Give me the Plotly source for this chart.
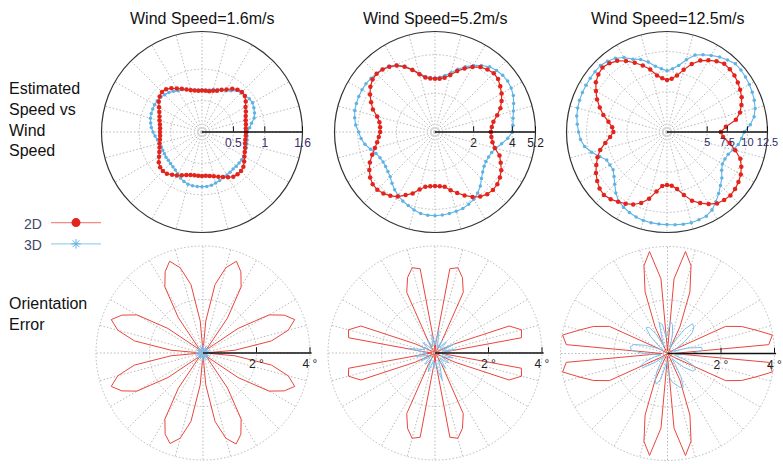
import plotly.graph_objects as go

# ---------------- data ----------------
angles = list(range(0, 360, 5))

col_titles = ["Wind Speed=1.6m/s", "Wind Speed=5.2m/s", "Wind Speed=12.5m/s"]
row_labels = ["Estimated<br>Speed vs<br>Wind<br>Speed", "Orientation<br>Error"]
series_names = ["2D", "3D"]

# Top row: estimated speed (m/s)
tl_2d = [0.70, 0.70, 0.71, 0.72, 0.74, 0.77, 0.80, 0.85, 0.89, 0.90, 0.88, 0.84,
         0.78, 0.74, 0.70, 0.68, 0.66, 0.66, 0.66, 0.66, 0.67, 0.69, 0.72, 0.76,
         0.80, 0.85, 0.89, 0.90, 0.88, 0.84, 0.79, 0.75, 0.72, 0.70, 0.68, 0.67,
         0.67, 0.67, 0.68, 0.70, 0.72, 0.75, 0.79, 0.84, 0.87, 0.88, 0.87, 0.83,
         0.80, 0.76, 0.73, 0.71, 0.70, 0.70, 0.70, 0.70, 0.71, 0.73, 0.76, 0.79,
         0.83, 0.87, 0.88, 0.88, 0.86, 0.82, 0.78, 0.75, 0.73, 0.71, 0.70, 0.70]
tl_3d = [0.72, 0.76, 0.80, 0.86, 0.89, 0.91, 0.93, 0.92, 0.90, 0.88, 0.86, 0.80,
         0.76, 0.73, 0.72, 0.70, 0.68, 0.67, 0.67, 0.67, 0.68, 0.70, 0.72, 0.74,
         0.76, 0.79, 0.82, 0.84, 0.86, 0.87, 0.87, 0.865, 0.86, 0.85, 0.83, 0.81,
         0.78, 0.75, 0.72, 0.70, 0.69, 0.69, 0.69, 0.70, 0.70, 0.71, 0.72, 0.74,
         0.77, 0.81, 0.84, 0.86, 0.87, 0.87, 0.87, 0.87, 0.86, 0.84, 0.82, 0.80,
         0.79, 0.78, 0.77, 0.77, 0.77, 0.77, 0.77, 0.76, 0.75, 0.74, 0.73, 0.72]
tm_2d = [2.89, 2.95, 3.07, 3.33, 3.60, 3.80, 3.98, 4.12, 4.26, 4.30, 4.22, 4.10,
         3.88, 3.62, 3.36, 3.05, 2.85, 2.76, 2.75, 2.78, 2.86, 3.10, 3.42, 3.72,
         3.97, 4.12, 4.22, 4.27, 4.22, 4.08, 3.88, 3.65, 3.42, 3.10, 2.92, 2.85,
         2.84, 2.92, 3.04, 3.22, 3.46, 3.72, 3.92, 4.10, 4.21, 4.22, 4.15, 4.03,
         3.86, 3.60, 3.38, 3.08, 2.88, 2.82, 2.80, 2.82, 2.88, 3.12, 3.36, 3.62,
         3.88, 4.08, 4.20, 4.24, 4.21, 4.10, 3.96, 3.75, 3.55, 3.20, 3.02, 2.93]
tm_3d = [4.00, 4.05, 4.10, 4.20, 4.33, 4.47, 4.55, 4.59, 4.57, 4.50, 4.40, 4.20,
         3.98, 3.72, 3.45, 3.18, 2.97, 2.85, 2.80, 2.83, 2.92, 3.15, 3.46, 3.76,
         4.00, 4.16, 4.24, 4.28, 4.32, 4.36, 4.36, 4.35, 4.33, 4.30, 4.22, 4.12,
         3.95, 3.84, 3.68, 3.45, 3.25, 3.14, 3.10, 3.12, 3.18, 3.28, 3.46, 3.64,
         3.80, 3.94, 4.05, 4.18, 4.28, 4.32, 4.33, 4.31, 4.28, 4.25, 4.21, 4.12,
         4.02, 3.85, 3.65, 3.40, 3.22, 3.10, 3.04, 3.06, 3.12, 3.25, 3.50, 3.78]
tr_2d = [6.70, 7.35, 8.70, 9.40, 9.85, 10.25, 10.50, 10.75, 10.95, 11.05, 11.07, 10.75,
         10.30, 9.80, 9.00, 8.00, 7.15, 6.65, 6.46, 6.70, 7.15, 8.05, 8.80, 9.50,
         10.20, 10.80, 11.15, 11.35, 11.15, 10.80, 10.20, 9.60, 8.90, 8.20, 7.40, 6.85,
         6.67, 7.10, 7.80, 8.60, 9.20, 9.70, 10.20, 10.60, 10.95, 11.10, 10.90, 10.60,
         10.30, 9.95, 9.40, 8.60, 7.50, 6.75, 6.58, 6.70, 7.20, 8.10, 9.10, 9.75,
         10.35, 10.85, 11.05, 11.15, 11.05, 10.85, 10.60, 10.20, 9.70, 8.80, 7.90, 7.00]
tr_3d = [9.60, 10.40, 11.00, 11.35, 11.55, 11.70, 11.82, 11.92, 12.00, 12.02, 11.70, 11.40,
         11.00, 10.60, 10.20, 9.30, 8.40, 7.90, 7.61, 7.90, 8.30, 9.00, 9.60, 10.00,
         10.70, 11.20, 11.50, 11.70, 11.68, 11.65, 11.63, 11.61, 11.58, 11.50, 11.40, 11.20,
         11.00, 10.80, 10.40, 9.70, 8.90, 8.27, 8.20, 8.18, 8.60, 9.20, 9.90, 10.50,
         10.80, 11.05, 11.25, 11.38, 11.45, 11.50, 11.52, 11.58, 11.64, 11.68, 11.62, 11.55,
         11.20, 10.60, 10.00, 9.40, 8.90, 8.30, 7.95, 7.95, 8.10, 8.50, 9.00, 9.30]

# Bottom row: orientation error (degrees)
bl_2d = [0.05, 1.20, 2.60, 3.30, 3.65, 3.35, 2.85, 1.60, 0.30, 0.05, 0.30, 1.60,
         2.85, 3.35, 3.65, 3.30, 2.60, 1.20, 0.05, 1.20, 2.60, 3.30, 3.65, 3.35,
         2.85, 1.60, 0.30, 0.05, 0.30, 1.60, 2.85, 3.35, 3.65, 3.30, 2.60, 1.20,
         0.05, 1.20, 2.60, 3.30, 3.65, 3.35, 2.85, 1.60, 0.30, 0.05, 0.30, 1.60,
         2.85, 3.35, 3.60, 3.30, 2.60, 1.20, 0.05, 1.20, 2.60, 3.30, 3.62, 3.35,
         2.85, 1.60, 0.30, 0.05, 0.30, 1.60, 2.85, 3.35, 3.65, 3.30, 2.60, 1.20]
bl_3d = [0.28, 0.10, 0.05, 0.12, 0.26, 0.10, 0.05, 0.12, 0.25, 0.28, 0.10, 0.05,
         0.12, 0.26, 0.10, 0.05, 0.12, 0.27, 0.30, 0.10, 0.05, 0.12, 0.26, 0.10,
         0.05, 0.12, 0.25, 0.28, 0.10, 0.05, 0.12, 0.26, 0.10, 0.05, 0.12, 0.27,
         0.28, 0.10, 0.05, 0.12, 0.26, 0.10, 0.05, 0.12, 0.25, 0.28, 0.10, 0.05,
         0.12, 0.26, 0.10, 0.05, 0.12, 0.27, 0.30, 0.10, 0.05, 0.12, 0.26, 0.10,
         0.05, 0.12, 0.25, 0.28, 0.10, 0.05, 0.12, 0.26, 0.10, 0.05, 0.12, 0.27]
bm_2d = [0.10, 0.30, 3.28, 3.35, 2.95, 0.80, 0.10, 0.05, 0.05, 0.05, 0.05, 0.10,
         0.50, 2.50, 3.00, 3.30, 3.20, 0.40, 0.05, 0.40, 3.20, 3.30, 3.00, 2.50,
         0.50, 0.10, 0.05, 0.05, 0.05, 0.05, 0.10, 0.80, 2.95, 3.35, 3.28, 0.30,
         0.10, 0.30, 3.28, 3.35, 2.95, 0.80, 0.10, 0.05, 0.05, 0.05, 0.05, 0.10,
         0.50, 2.50, 3.00, 3.30, 3.20, 0.40, 0.05, 0.40, 3.20, 3.30, 3.00, 2.50,
         0.50, 0.10, 0.05, 0.05, 0.05, 0.05, 0.10, 0.80, 2.95, 3.35, 3.28, 0.30]
bm_3d = [0.20, 0.30, 0.80, 0.30, 0.35, 0.80, 0.40, 0.20, 0.45, 0.60, 0.30, 0.25,
         0.55, 0.30, 0.20, 0.40, 0.85, 0.50, 0.30, 0.45, 0.70, 0.35, 0.25, 0.40,
         0.55, 0.30, 0.20, 0.40, 0.60, 0.35, 0.30, 0.55, 0.40, 0.50, 1.00, 0.45,
         0.30, 0.50, 0.75, 0.40, 0.25, 0.45, 0.60, 0.30, 0.20, 0.45, 0.55, 0.30,
         0.25, 0.50, 0.75, 0.40, 0.30, 0.60, 0.45, 0.35, 0.70, 1.05, 0.55, 0.30,
         0.45, 0.70, 0.35, 0.25, 0.50, 0.65, 0.30, 0.25, 0.50, 0.70, 0.35, 0.25]
br_2d = [0.20, 3.80, 3.98, 3.40, 2.95, 2.40, 0.30, 0.05, 0.05, 0.05, 0.05, 0.05,
         0.10, 1.10, 2.45, 3.40, 3.87, 2.80, 0.10, 2.80, 3.87, 3.40, 2.45, 1.10,
         0.10, 0.05, 0.05, 0.05, 0.05, 0.05, 0.30, 2.40, 2.95, 3.40, 3.98, 3.80,
         0.20, 3.80, 3.98, 3.40, 2.95, 2.40, 0.30, 0.05, 0.05, 0.05, 0.05, 0.05,
         0.10, 1.10, 2.45, 3.40, 3.87, 2.80, 0.10, 2.80, 3.87, 3.40, 2.45, 1.10,
         0.10, 0.05, 0.05, 0.05, 0.05, 0.05, 0.30, 2.40, 2.95, 3.40, 3.98, 3.80]
br_3d = [0.90, 1.30, 1.30, 0.80, 0.30, 0.20, 0.40, 0.80, 1.20, 1.40, 1.45, 1.10,
         0.50, 0.20, 0.30, 0.70, 1.10, 1.20, 0.70, 0.60, 1.10, 1.20, 0.60, 0.30,
         0.80, 1.20, 1.25, 0.90, 0.40, 0.20, 0.30, 0.50, 0.90, 1.30, 1.42, 1.35,
         0.90, 0.40, 0.25, 0.50, 0.90, 1.10, 1.05, 0.60, 0.25, 0.20, 0.30, 0.50,
         0.80, 1.10, 1.22, 1.00, 0.50, 0.30, 0.50, 0.90, 1.10, 1.20, 1.35, 1.40,
         1.00, 0.50, 0.25, 0.40, 0.80, 1.15, 1.20, 1.10, 0.70, 0.30, 0.30, 0.50]

top_ranges = [1.6, 5.2, 12.5]
top_tickvals = [[0.5, 1, 1.6], [2, 4, 5.2], [5, 7.5, 10, 12.5]]
top_ticktext = [["0.5", "1", "1.6"], ["2", "4", "5.2"], ["5", "7.5", "10", "12.5"]]
top_tickcolors = ["#3d2f70", "#222222", "#2e2e60"]
top_ticksizes = [12, 12, 11]
bottom_range = 4
bottom_tickvals = [2, 4]
bottom_ticktext = ["2 °", "4 °"]

top_data = [(tl_2d, tl_3d), (tm_2d, tm_3d), (tr_2d, tr_3d)]
bottom_data = [(bl_2d, bl_3d), (bm_2d, bm_3d), (br_2d, br_3d)]

RED = "#e3241c"
BLUE = "#5fb2e4"
W, H = 783, 464
FONT = "Arial, Liberation Sans"
GRID = "#b9b9b9"
DOTS = "1.5px,2px"

# ---------------- layout helpers ----------------
def dom(cx, cy, rad):
    return dict(x=[max(0, (cx - rad) / W), min(1, (cx + rad) / W)],
                y=[max(0, (H - cy - rad) / H), min(1, (H - cy + rad) / H)])

top_centers = [(202, 132), (435, 132), (667, 132)]
bot_centers = [(203, 353), (435, 353), (667.5, 353.5)]
top_rad = 100.5
bot_rad = 107
bot_pad = 1.015   # axis extends slightly past 4 so the r=4 grid circle is drawn

def polar_cfg(domain, rmax, tv, tt, tcol, tsize, outline):
    return dict(
        domain=domain,
        bgcolor="white",
        radialaxis=dict(range=[0, rmax], tickvals=tv, ticktext=tt, angle=0,
                        tickangle=0, showline=True, linecolor="#111111",
                        linewidth=1.6, ticks="inside", ticklen=5,
                        tickcolor="#111111", gridcolor=GRID,
                        griddash=DOTS, gridwidth=1,
                        tickfont=dict(size=tsize, color=tcol, family=FONT)),
        angularaxis=dict(dtick=15, showticklabels=False, ticks="",
                         gridcolor=GRID, griddash=DOTS, gridwidth=1,
                         showline=outline, linecolor="#333333", linewidth=1.2),
    )

fig = go.Figure()
layout = {}
idx = 1
for i in range(3):
    key = "polar" if idx == 1 else f"polar{idx}"
    layout[key] = polar_cfg(dom(*top_centers[i], top_rad), top_ranges[i],
                            top_tickvals[i], top_ticktext[i], top_tickcolors[i],
                            top_ticksizes[i], True)
    r2, r3 = top_data[i]
    fig.add_trace(go.Scatterpolar(
        r=r3 + [r3[0]], theta=angles + [angles[0]], mode="lines+markers",
        name="", subplot=key,
        line=dict(color=BLUE, width=1.1),
        marker=dict(symbol="circle", size=3.5, color=BLUE),
        showlegend=False))
    fig.add_trace(go.Scatterpolar(
        r=r2 + [r2[0]], theta=angles + [angles[0]], mode="lines+markers",
        name="", subplot=key,
        line=dict(color=RED, width=1.2),
        marker=dict(symbol="circle", size=4.5, color=RED),
        showlegend=False))
    idx += 1

for i in range(3):
    key = f"polar{idx}"
    layout[key] = polar_cfg(dom(*bot_centers[i], bot_rad * bot_pad),
                            bottom_range * bot_pad,
                            bottom_tickvals, bottom_ticktext, "#222222", 12, False)
    r2, r3 = bottom_data[i]
    fig.add_trace(go.Scatterpolar(
        r=r2 + [r2[0]], theta=angles + [angles[0]], mode="lines",
        name="", subplot=key, line=dict(color="#e8463e", width=1.0),
        showlegend=False))
    fig.add_trace(go.Scatterpolar(
        r=r3 + [r3[0]], theta=angles + [angles[0]], mode="lines",
        name="", subplot=key, line=dict(color="#7fc0ea", width=1.0),
        showlegend=False))
    idx += 1

# legend entries (symbols only; labels written to their left)
fig.add_trace(go.Scatterpolar(r=[None], theta=[None], mode="lines+markers",
                              name=" ", subplot="polar",
                              line=dict(color="#f08a84", width=1.2),
                              marker=dict(symbol="circle", size=9, color=RED),
                              showlegend=True))
fig.add_trace(go.Scatterpolar(r=[None], theta=[None], mode="lines+markers",
                              name=" ", subplot="polar",
                              line=dict(color="#9fd0f0", width=1.2),
                              marker=dict(symbol="asterisk-open", size=8,
                                          color=BLUE, line=dict(color=BLUE, width=1)),
                              showlegend=True))

annotations = []
for i, t in enumerate(col_titles):
    annotations.append(dict(text=t, x=top_centers[i][0] / W, y=1 - 18 / H,
                            xref="paper", yref="paper", showarrow=False,
                            xanchor="center", yanchor="middle",
                            font=dict(size=16, color="#111111", family=FONT)))
annotations.append(dict(text=row_labels[0], x=7 / W, y=1 - 119 / H, xref="paper",
                        yref="paper", showarrow=False, xanchor="left",
                        yanchor="middle", align="left",
                        font=dict(size=16, color="#111111", family=FONT)))
annotations.append(dict(text=row_labels[1], x=7 / W, y=1 - 313.5 / H, xref="paper",
                        yref="paper", showarrow=False, xanchor="left",
                        yanchor="middle", align="left",
                        font=dict(size=16, color="#111111", family=FONT)))
for j, nm in enumerate(series_names):
    annotations.append(dict(text=nm, x=22 / W, y=1 - (224 + 21 * j) / H,
                            xref="paper", yref="paper", showarrow=False,
                            xanchor="left", yanchor="middle",
                            font=dict(size=14, color="#45456a", family=FONT)))

fig.update_layout(
    **layout,
    width=W, height=H,
    margin=dict(l=0, r=0, t=0, b=0),
    paper_bgcolor="white",
    showlegend=True,
    legend=dict(x=46 / W, y=1 - 207 / H, xanchor="left", yanchor="top",
                bgcolor="rgba(0,0,0,0)", itemwidth=50,
                font=dict(size=14), tracegroupgap=0),
    annotations=annotations,
)

fig.write_html("out.html",
               config={"displayModeBar": False},
               post_script="document.body.style.margin='0';"
                           "document.body.style.overflow='hidden';")
